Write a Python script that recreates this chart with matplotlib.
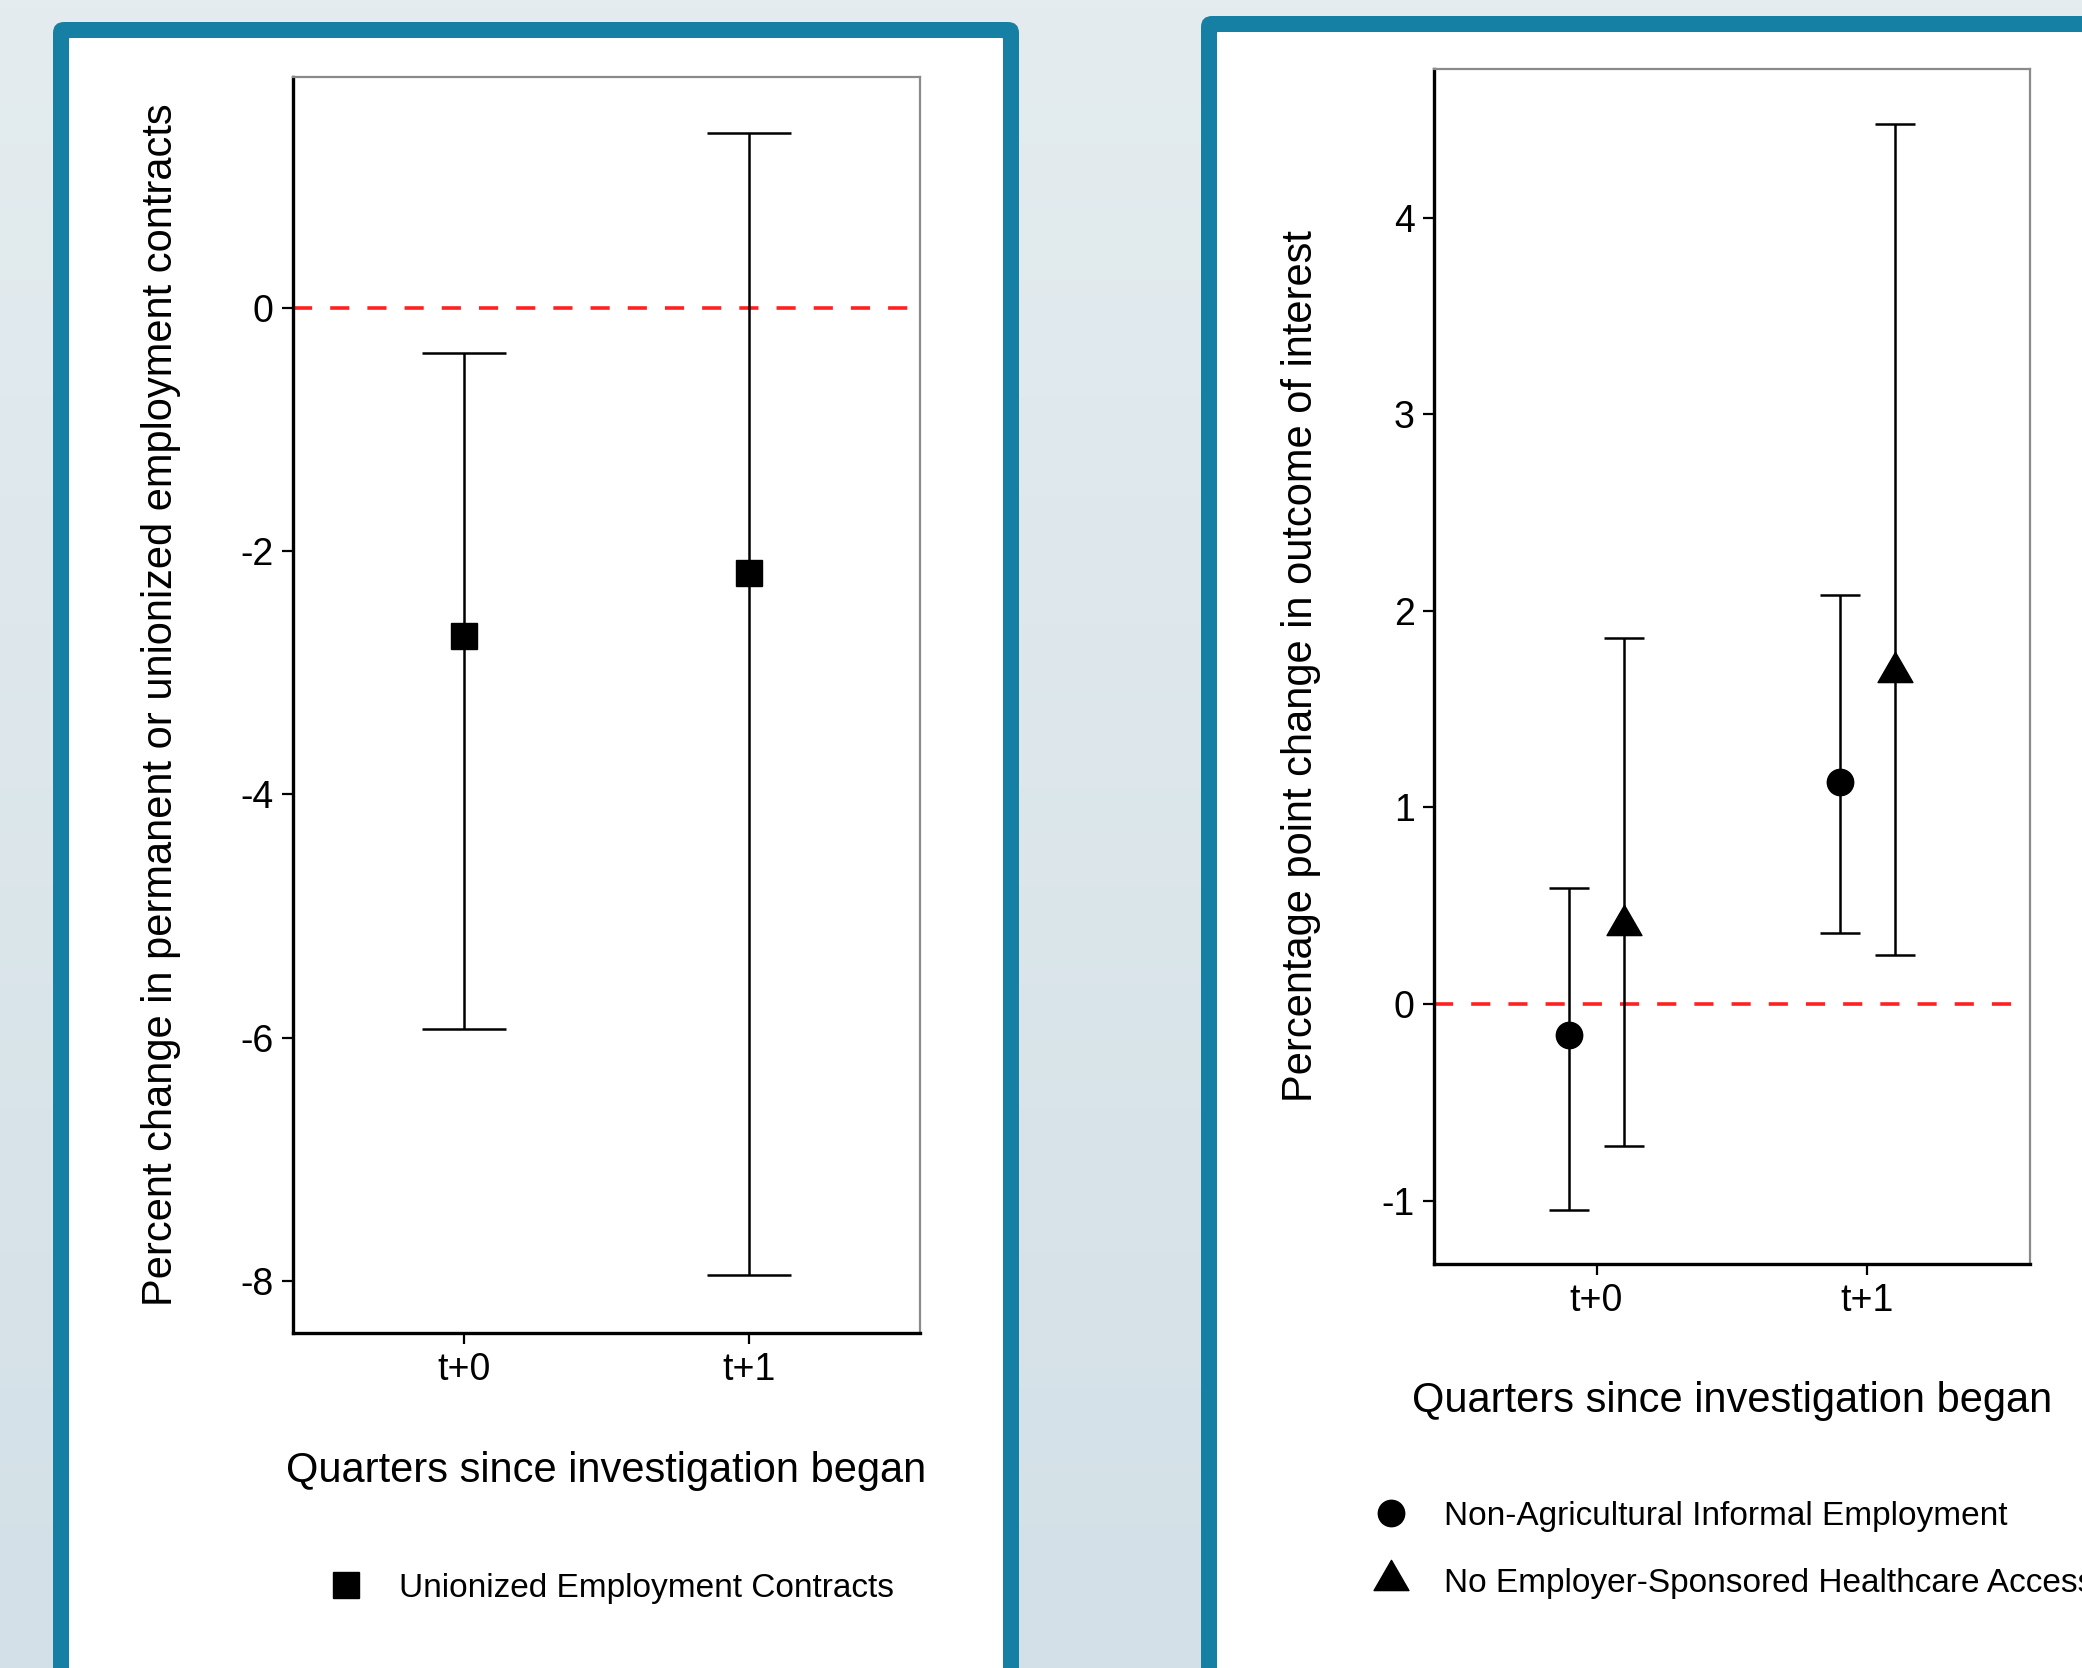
import numpy as np
import matplotlib
matplotlib.use('Agg')
import matplotlib.pyplot as plt
from matplotlib.patches import FancyBboxPatch
from matplotlib.transforms import IdentityTransform
from matplotlib.lines import Line2D
from matplotlib.path import Path

plt.rcParams['font.family'] = ['Liberation Sans', 'DejaVu Sans']

# ---------------- data ----------------
quarters = ['t+0', 't+1']

# Left panel: unionized employment contracts
union_est = [-2.70, -2.18]
union_lo = [-5.93, -7.95]
union_hi = [-0.37, 1.44]

# Right panel
informal_est = [-0.16, 1.13]
informal_lo = [-1.05, 0.36]
informal_hi = [0.59, 2.08]

health_est = [0.40, 1.69]
health_lo = [-0.72, 0.25]
health_hi = [1.86, 4.48]

left_yticks = [0, -2, -4, -6, -8]
right_yticks = [-1, 0, 1, 2, 3, 4]

left_ylabel = 'Percent change in permanent or unionized employment contracts'
right_ylabel = 'Percentage point change in outcome of interest'
xlabel = 'Quarters since investigation began'
union_name = 'Unionized Employment Contracts'
informal_name = 'Non-Agricultural Informal Employment'
health_name = 'No Employer-Sponsored Healthcare Access'

# ---------------- style ----------------
W, H, DPI = 2082, 1668, 100
TEAL = '#1580a3'
TICK_FS = 27
LABEL_FS = 30
LEG_FS = 24
LW = 1.8
DASH = (0, (5.3, 5.0))

tri = Path([(0, 1), (-0.866, -0.5), (0.866, -0.5), (0, 1)],
           [Path.MOVETO, Path.LINETO, Path.LINETO, Path.CLOSEPOLY])

fig = plt.figure(figsize=(W / DPI, H / DPI), dpi=DPI)

# background gradient
bg = fig.add_axes([0, 0, 1, 1], zorder=-5)
grad = np.linspace(0, 1, 256).reshape(-1, 1)
c_top = np.array([0xe4, 0xec, 0xef]) / 255
c_bot = np.array([0xd3, 0xe0, 0xe7]) / 255
img = c_top[None, None, :] * (1 - grad[:, :, None]) + c_bot[None, None, :] * grad[:, :, None]
bg.imshow(img, aspect='auto', extent=[0, 1, 0, 1])
bg.axis('off')

ident = IdentityTransform()


def frame(x0, top, x1, thick):
    outer = FancyBboxPatch((x0, -60), x1 - x0, H - top + 60,
                           boxstyle='round,pad=0,rounding_size=11',
                           transform=ident, facecolor=TEAL, edgecolor='none', zorder=-2)
    inner = FancyBboxPatch((x0 + thick, -60), x1 - x0 - 2 * thick, H - top - thick + 60,
                           boxstyle='round,pad=0,rounding_size=1',
                           transform=ident, facecolor='white', edgecolor='none', zorder=-1)
    fig.add_artist(outer)
    fig.add_artist(inner)


frame(53, 22, 1019, 16)
frame(1201, 16, 2300, 16)


def style_axes(ax):
    for s in ['left', 'bottom']:
        ax.spines[s].set_color('black')
        ax.spines[s].set_linewidth(2.4)
    for s in ['top', 'right']:
        ax.spines[s].set_color('#8a8a8a')
        ax.spines[s].set_linewidth(1.6)
    ax.tick_params(axis='both', direction='out', length=8, width=1.6,
                   labelsize=TICK_FS, colors='black', pad=6)
    ax.set_facecolor('white')


# ---------------- left panel ----------------
axL = fig.add_axes([293 / W, 1 - 1333 / H, 627 / W, 1256 / H])
xL = np.arange(1, len(quarters) + 1)
uest = np.array(union_est)
axL.axhline(0, color='#ff2020', lw=2.6, linestyle=DASH, zorder=1)
axL.errorbar(xL, uest, yerr=[uest - np.array(union_lo), np.array(union_hi) - uest],
             fmt='s', ms=19, color='black', ecolor='black', elinewidth=LW,
             capsize=30, capthick=LW, zorder=3)
axL.set_xlim(0.4, 2.6)
axL.set_ylim(-8.43, 1.90)
axL.set_xticks(xL)
axL.set_xticklabels(quarters)
axL.set_yticks(left_yticks)
axL.set_yticklabels([f'{v:g}' for v in left_yticks])
style_axes(axL)
axL.set_ylabel(left_ylabel, fontsize=LABEL_FS, va='center')
axL.yaxis.set_label_coords(-0.211, 0.5)
axL.set_xlabel(xlabel, fontsize=LABEL_FS, va='center')
axL.xaxis.set_label_coords(0.5, -0.110)

hL = [Line2D([], [], marker='s', ms=19, color='black', linestyle='none')]
axL.legend(hL, [union_name], loc='center left', bbox_to_anchor=(326 / W, 1 - 1588 / H),
           bbox_transform=fig.transFigure, frameon=False, fontsize=LEG_FS,
           borderpad=0, borderaxespad=0, handlelength=1.2, handletextpad=1.0)

# ---------------- right panel ----------------
axR = fig.add_axes([1434 / W, 1 - 1264 / H, 596 / W, 1195 / H])
xR = np.arange(1, len(quarters) + 1)
dodge = 0.1
iest = np.array(informal_est)
hest = np.array(health_est)
axR.axhline(0, color='#ff2020', lw=2.6, linestyle=DASH, zorder=1)
axR.errorbar(xR - dodge, iest, yerr=[iest - np.array(informal_lo), np.array(informal_hi) - iest],
             fmt='o', ms=19, color='black', ecolor='black', elinewidth=LW,
             capsize=14.5, capthick=LW, zorder=3)
axR.errorbar(xR + dodge, hest, yerr=[hest - np.array(health_lo), np.array(health_hi) - hest],
             fmt='none', ecolor='black', elinewidth=LW,
             capsize=14.5, capthick=LW, zorder=3)
axR.plot(xR + dodge, hest, marker=tri, ms=29, color='black', linestyle='none', zorder=4)
axR.set_xlim(0.4, 2.6)
axR.set_ylim(-1.323, 4.758)
axR.set_xticks(xR)
axR.set_xticklabels(quarters)
axR.set_yticks(right_yticks)
axR.set_yticklabels([f'{v:g}' for v in right_yticks])
style_axes(axR)
axR.set_ylabel(right_ylabel, fontsize=LABEL_FS, va='center')
axR.yaxis.set_label_coords(-0.223, 0.5)
axR.set_xlabel(xlabel, fontsize=LABEL_FS, va='center')
axR.xaxis.set_label_coords(0.5, -0.115)

hR = [Line2D([], [], marker='o', ms=19, color='black', linestyle='none'),
      Line2D([], [], marker=tri, ms=29, color='black', linestyle='none')]
axR.legend(hR, [informal_name, health_name], loc='center left',
           bbox_to_anchor=(1371 / W, 1 - 1550 / H),
           bbox_transform=fig.transFigure, frameon=False, fontsize=LEG_FS,
           borderpad=0, borderaxespad=0, handlelength=1.2, handletextpad=1.0,
           labelspacing=1.08)

fig.savefig('out.png', dpi=DPI)
